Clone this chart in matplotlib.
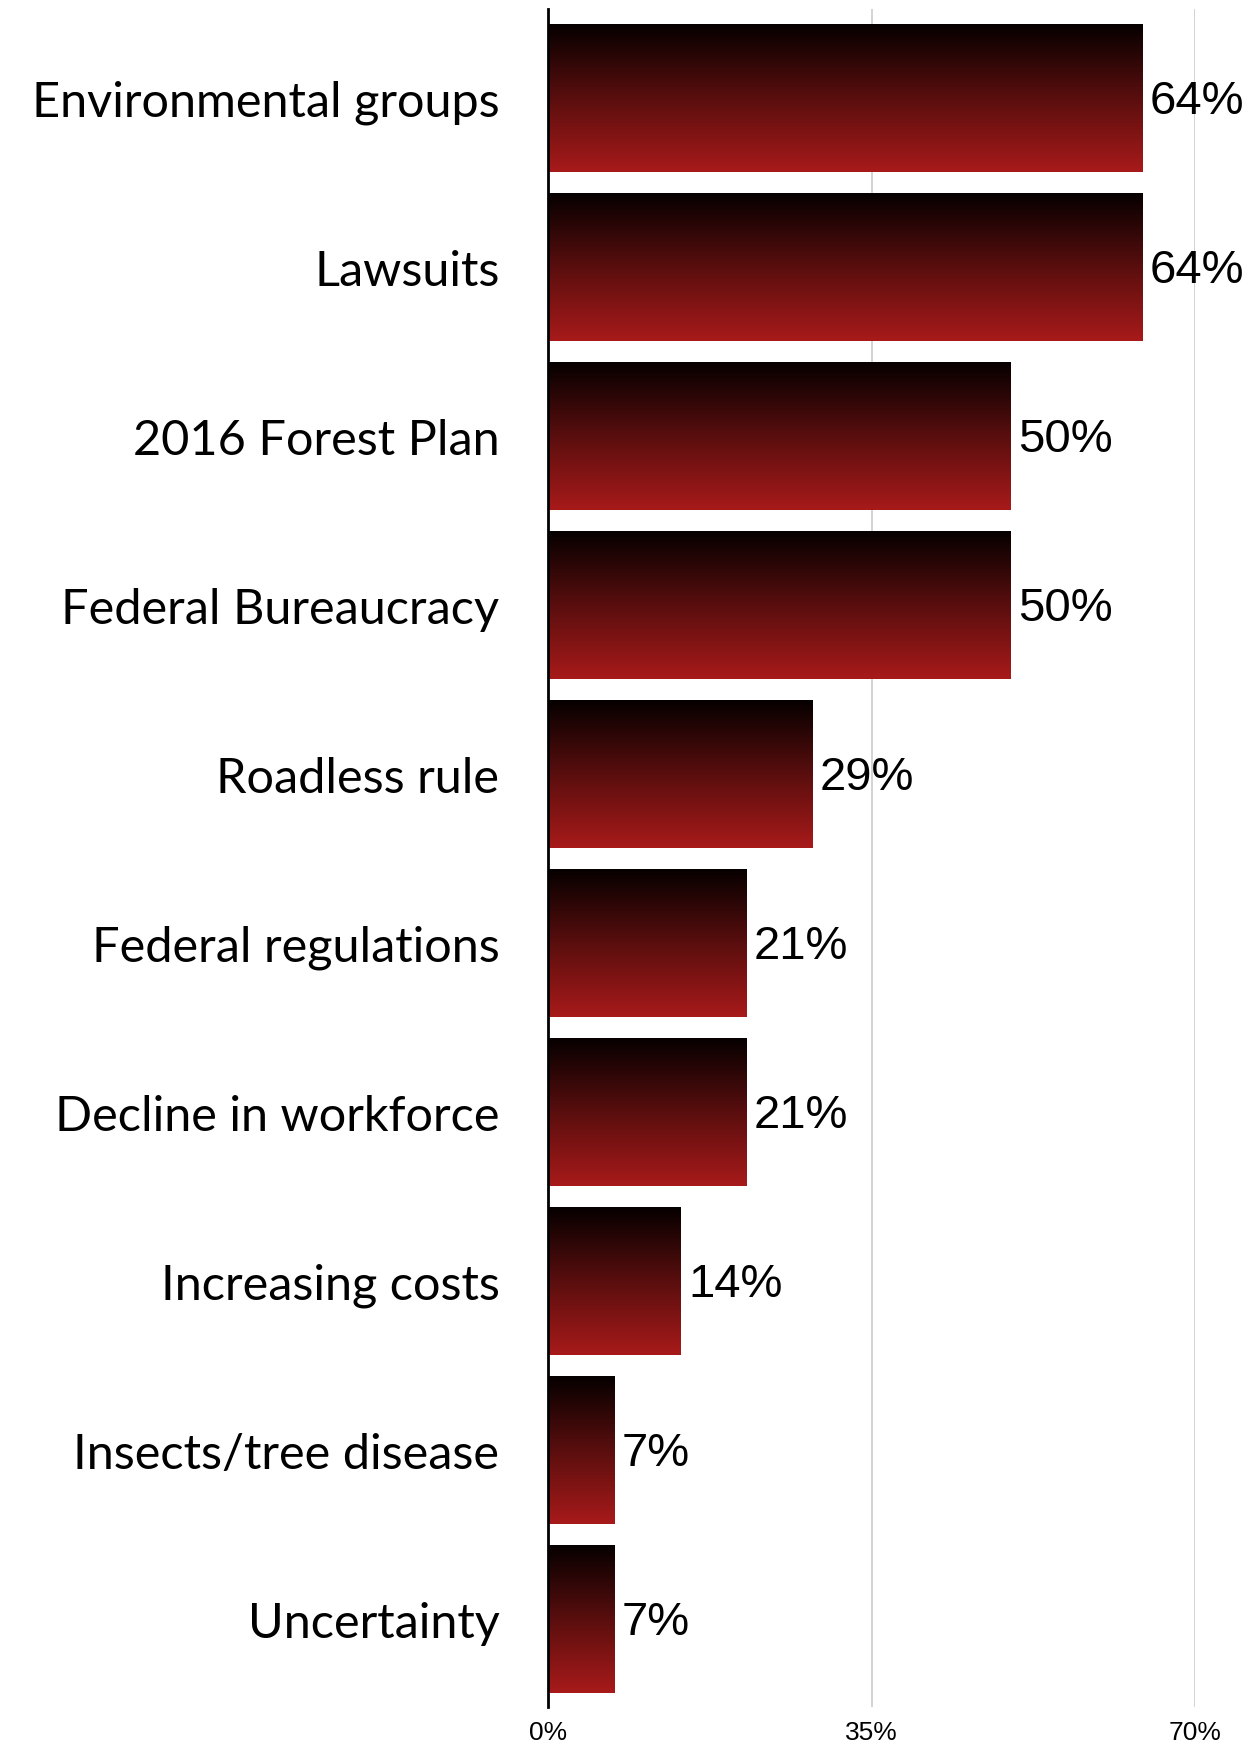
import numpy as np
import matplotlib
matplotlib.use("Agg")
import matplotlib.pyplot as plt
from matplotlib.colors import LinearSegmentedColormap

categories = ["Environmental groups", "Lawsuits", "2016 Forest Plan", "Federal Bureaucracy",
              "Roadless rule", "Federal regulations", "Decline in workforce", "Increasing costs",
              "Insects/tree disease", "Uncertainty"]
values = [9/14*100, 9/14*100, 7/14*100, 7/14*100, 4/14*100, 3/14*100, 3/14*100, 2/14*100, 1/14*100, 1/14*100]
value_labels = ["64%", "64%", "50%", "50%", "29%", "21%", "21%", "14%", "7%", "7%"]
xticks = [0, 35, 70]
xtick_labels = ["0%", "35%", "70%"]

W, H = 1255, 1743
fig = plt.figure(figsize=(W/100, H/100), dpi=100)
ax = fig.add_axes([548/W, 1-1707/H, (1195-548)/W, (1707-9)/H])

cmap = LinearSegmentedColormap.from_list("g", ["#060000", "#5a0e0e", "#a81a1a"])
grad = np.linspace(0, 1, 256).reshape(-1, 1)
bh = 0.87
for i, v in enumerate(values):
    ax.imshow(grad, cmap=cmap, aspect="auto", extent=(0, v, i + bh/2, i - bh/2),
              origin="upper", zorder=2, interpolation="bilinear")
    ax.text(v + 0.85, i + 0.02, value_labels[i], va="center", ha="left",
            fontsize=34, family="Liberation Sans", color="black", zorder=4, clip_on=False)

ax.set_xlim(0, 70)
ax.set_ylim(9.515, -0.53)
for x in [35, 70]:
    ax.axvline(x, color="#cccccc", lw=1.2, zorder=1)

ax.set_yticks(range(len(categories)))
ax.set_yticklabels(categories, fontsize=35, family="Lato")
ax.set_xticks(xticks)
ax.set_xticklabels(xtick_labels, fontsize=19, family="Liberation Sans")
ax.tick_params(axis="y", length=0, pad=35)
ax.tick_params(axis="x", length=0, pad=10)
for s in ["top", "right", "bottom"]:
    ax.spines[s].set_visible(False)
ax.spines["left"].set_linewidth(2)
ax.spines["left"].set_zorder(5)

fig.savefig("out.png", dpi=100)
